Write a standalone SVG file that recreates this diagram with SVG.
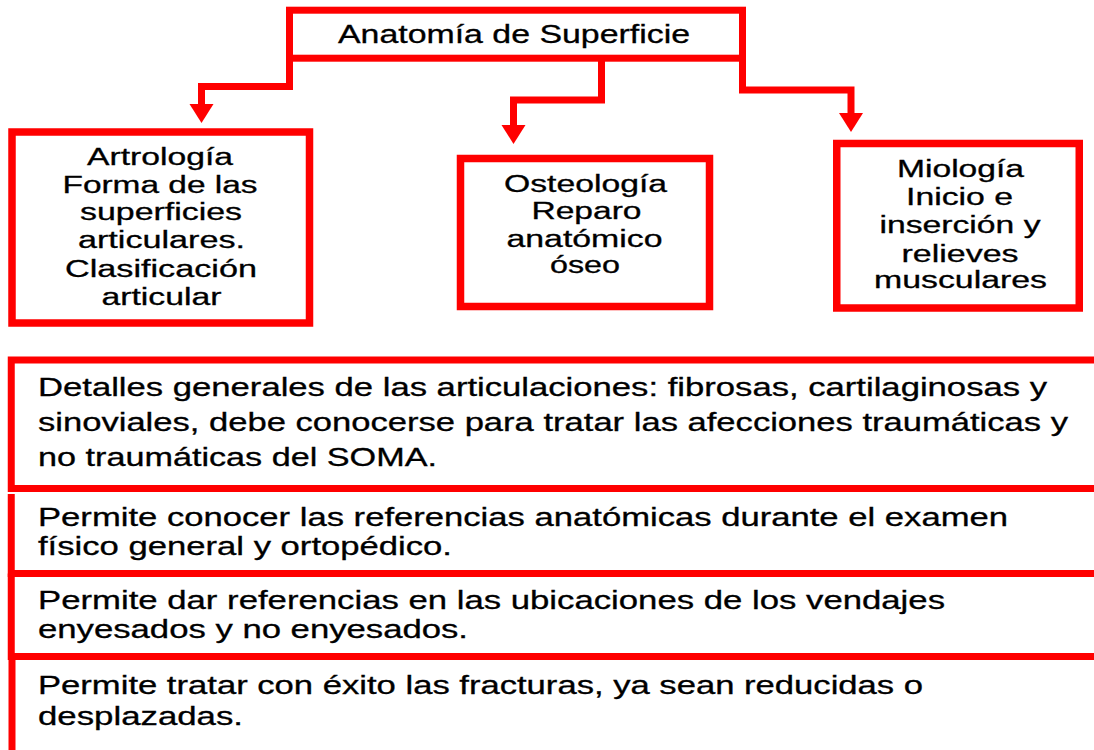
<svg xmlns="http://www.w3.org/2000/svg" width="1094" height="750" viewBox="0 0 1094 750">
<style>
.box{fill:#fff;stroke:#ff0000;stroke-width:7.5}
.row{fill:none;stroke:#ff0000;stroke-width:7}
.con{fill:none;stroke:#ff0000;stroke-width:7;stroke-linejoin:miter}
.t{font-family:"Liberation Sans",Arial,sans-serif;fill:#000;stroke:#000;stroke-width:0.3}
.c{text-anchor:middle;font-size:23px}
.b{font-size:25px}
</style>
<defs>
<marker id="ah" markerUnits="userSpaceOnUse" markerWidth="30" markerHeight="30" refX="0" refY="12" orient="auto" overflow="visible">
<path d="M0,0 L19,12 L0,24 Z" fill="#ff0000"/>
</marker>
</defs>
<rect width="1094" height="750" fill="#fff"/>
<g id="connectors">
<path class="con" d="M289.5,58 V86.5 H201.5 V104" marker-end="url(#ah)"/>
<path class="con" d="M601.5,58 V100 H513.5 V125" marker-end="url(#ah)"/>
<path class="con" d="M742.5,58 V90 H851 V113" marker-end="url(#ah)"/>
</g>
<g id="node-title">
<rect class="box" x="289.5" y="10.2" width="453" height="48" style="stroke-width:7"/>
<text class="t b" x="338" y="43" textLength="352" lengthAdjust="spacingAndGlyphs">Anatomía de Superficie</text>
</g>
<g id="node-artrologia">
<rect class="box" x="12" y="132" width="297.5" height="191"/>
<text class="t c" x="160" y="165" textLength="146" lengthAdjust="spacingAndGlyphs">Artrología</text>
<text class="t c" x="160" y="192.7" textLength="195" lengthAdjust="spacingAndGlyphs">Forma de las</text>
<text class="t c" x="161" y="220" textLength="162" lengthAdjust="spacingAndGlyphs">superficies</text>
<text class="t c" x="161.5" y="248.3" textLength="167" lengthAdjust="spacingAndGlyphs">articulares.</text>
<text class="t c" x="161" y="276.7" textLength="192" lengthAdjust="spacingAndGlyphs">Clasificación</text>
<text class="t c" x="161.5" y="305" textLength="120" lengthAdjust="spacingAndGlyphs">articular</text>
</g>
<g id="node-osteologia">
<rect class="box" x="460.5" y="158.5" width="249" height="148"/>
<text class="t c" x="585.5" y="191.7" textLength="163" lengthAdjust="spacingAndGlyphs">Osteología</text>
<text class="t c" x="586.5" y="219.3" textLength="110" lengthAdjust="spacingAndGlyphs">Reparo</text>
<text class="t c" x="584.5" y="246.7" textLength="156" lengthAdjust="spacingAndGlyphs">anatómico</text>
<text class="t c" x="585" y="273.3" textLength="70" lengthAdjust="spacingAndGlyphs">óseo</text>
</g>
<g id="node-miologia">
<rect class="box" x="836.75" y="143.5" width="242.5" height="164.5"/>
<text class="t c" x="960.5" y="176.7" textLength="127" lengthAdjust="spacingAndGlyphs">Miología</text>
<text class="t c" x="959.5" y="205" textLength="107" lengthAdjust="spacingAndGlyphs">Inicio e</text>
<text class="t c" x="960" y="233" textLength="161" lengthAdjust="spacingAndGlyphs">inserción y</text>
<text class="t c" x="960" y="261.7" textLength="117" lengthAdjust="spacingAndGlyphs">relieves</text>
<text class="t c" x="960.5" y="288.3" textLength="173" lengthAdjust="spacingAndGlyphs">musculares</text>
</g>
<g id="node-row1">
<path class="row" d="M1100,360 H11.25 V488.5 H1100"/>
<text class="t b" x="38" y="396" textLength="1009" lengthAdjust="spacingAndGlyphs">Detalles generales de las articulaciones: fibrosas, cartilaginosas y</text>
<text class="t b" x="38" y="431" textLength="1030" lengthAdjust="spacingAndGlyphs">sinoviales, debe conocerse para tratar las afecciones traumáticas y</text>
<text class="t b" x="38" y="466" textLength="399" lengthAdjust="spacingAndGlyphs">no traumáticas del SOMA.</text>
</g>
<g id="node-row2">
<path class="row" d="M11.25,494 V573.5 H1100"/>
<text class="t b" x="38" y="526" textLength="970" lengthAdjust="spacingAndGlyphs">Permite conocer las referencias anatómicas durante el examen</text>
<text class="t b" x="38" y="555" textLength="414" lengthAdjust="spacingAndGlyphs">físico general y ortopédico.</text>
</g>
<g id="node-row3">
<path class="row" d="M11.25,573.5 V656.5 H1100"/>
<text class="t b" x="38" y="609" textLength="907" lengthAdjust="spacingAndGlyphs">Permite dar referencias en las ubicaciones de los vendajes</text>
<text class="t b" x="38" y="638" textLength="430" lengthAdjust="spacingAndGlyphs">enyesados y no enyesados.</text>
</g>
<g id="node-row4">
<path class="row" d="M12,656.5 V760"/>
<text class="t b" x="38" y="694" textLength="885" lengthAdjust="spacingAndGlyphs">Permite tratar con éxito las fracturas, ya sean reducidas o</text>
<text class="t b" x="38" y="725" textLength="205" lengthAdjust="spacingAndGlyphs">desplazadas.</text>
</g>
</svg>
